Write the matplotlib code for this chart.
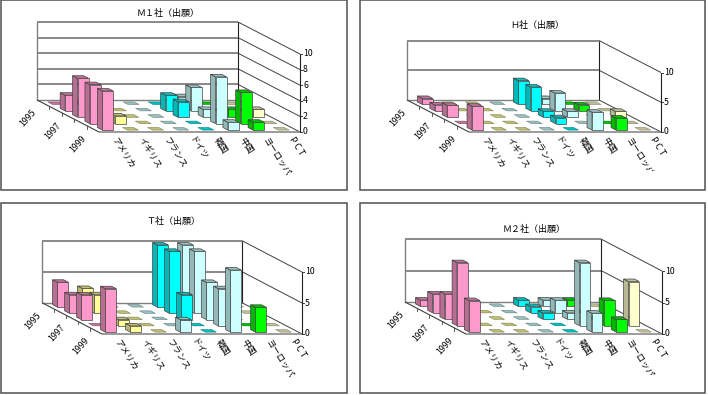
import matplotlib
matplotlib.use("Agg")
import numpy as np
from matplotlib import pyplot as plt
from matplotlib.patches import Rectangle

plt.rcParams['font.family'] = ['Noto Sans CJK JP', 'DejaVu Sans']

# categories along the front, years going into the picture
categories = ['アメリカ', 'イギリス', 'フランス', 'ドイツ', '韓国', '中国', 'ヨーロッパ', 'PCT']
years = ['1995', '', '1997', '', '1999']
colors = ['#FF99CC', '#FFFF99', '#FFFF99', '#CCFFFF', '#00FFFF', '#CCFFFF', '#00FF00', '#FFFFCC']

# one row per category, one value per year (1995..1999)
m1_values = [
    [0, 2, 5, 5, 5],
    [0, 0, 0, 1, 0],
    [0, 0, 0, 0, 0],
    [0, 0, 0, 0, 0],
    [0, 2, 2, 0, 0],
    [1, 3, 1, 6, 1],
    [0, 0, 1, 4, 1],
    [0, 0, 1, 0, 0],
]
h_values = [
    [1, 1, 2, 0, 4],
    [0, 0, 0, 0, 0],
    [0, 0, 0, 0, 0],
    [0, 0, 0, 0, 0],
    [4, 4, 1, 1, 0],
    [1, 3, 1, 0, 3],
    [0, 1, 0, 0, 2],
    [0, 0, 1, 0, 0],
]
t_values = [
    [4, 3, 4, 0, 7],
    [3, 3, 0, 1, 1],
    [0, 0, 0, 0, 0],
    [0, 0, 0, 0, 2],
    [10, 10, 4, 0, 0],
    [10, 10, 6, 6, 10],
    [0, 0, 0, 0, 4],
    [0, 0, 0, 0, 0],
]
m2_values = [
    [1, 3, 4, 10, 5],
    [0, 0, 0, 0, 0],
    [0, 0, 0, 0, 0],
    [0, 0, 0, 0, 0],
    [1, 1, 1, 0, 0],
    [1, 2, 1, 10, 3],
    [1, 0, 0, 4, 2],
    [0, 0, 0, 7, 0],
]
m1_ticks = [0, 2, 4, 6, 8, 10]
other_ticks = [0, 5, 10]

# layout in pixels: frame, title spot, floor corners, height of one unit, label clip
panels = [
    dict(title='Ｍ１社（出願）', values=m1_values, ticks=m1_ticks, frame=(1, 0, 347, 190),
         title_xy=(168, 13), fl=(99, 132), fr=(300, 132), bl=(37, 100), unit=7.8, clip=190),
    dict(title='Ｈ社（出願）', values=h_values, ticks=other_ticks, frame=(360, 0, 705, 190),
         title_xy=(537, 25), fl=(469, 132), fr=(661, 132), bl=(407, 100), unit=5.95, clip=171),
    dict(title='Ｔ社（出願）', values=t_values, ticks=other_ticks, frame=(1, 203, 347, 393),
         title_xy=(173, 221), fl=(102, 334), fr=(302, 334), bl=(42, 302.7), unit=6.2, clip=378),
    dict(title='Ｍ２社（出願）', values=m2_values, ticks=other_ticks, frame=(360, 203, 705, 393),
         title_xy=(534, 229), fl=(466, 334), fr=(662, 334), bl=(405, 302), unit=6.3, clip=375),
]

BAR_W = 0.22   # half width of a bar, in columns
BAR_D = 0.2    # half depth of a bar, in rows
DARK = '#404040'
GRID = '#808080'


def shade(color, k):
    rgb = np.array(matplotlib.colors.to_rgb(color))
    return tuple(rgb * k)


def draw_panel(ax, p):
    n_col = len(categories)
    n_row = len(years)
    dx = (p['fr'][0] - p['fl'][0]) / n_col
    sx = (p['fl'][0] - p['bl'][0]) / n_row
    sy = (p['fl'][1] - p['bl'][1]) / n_row

    # col 0..8 left to right, row 0..5 back to front
    def project(col, row, value):
        x = p['fl'][0] + col * dx - (n_row - row) * sx
        y = p['fl'][1] - (n_row - row) * sy - value * p['unit']
        return x, y

    def face(points, color, edge=DARK, lw=0.5):
        xy = np.array([project(*q) for q in points])
        ax.fill(xy[:, 0], xy[:, 1], facecolor=color, edgecolor=edge, linewidth=lw, zorder=3)

    def line(a, b, color=DARK, lw=0.7, z=2):
        xy = np.array([project(*a), project(*b)])
        ax.plot(xy[:, 0], xy[:, 1], color=color, linewidth=lw, zorder=z, solid_capstyle='butt')

    # frame and title
    x0, y0, x1, y1 = p['frame']
    ax.add_patch(Rectangle((x0, y0), x1 - x0, y1 - y0, facecolor='white', edgecolor='#505050',
                           linewidth=1.1, zorder=1))
    ax.text(p['title_xy'][0], p['title_xy'][1], p['title'], ha='center', va='center',
            fontsize=6.5, color='black', zorder=6)

    top = max(p['ticks'])

    # back wall and right wall, one level per tick
    for t in p['ticks']:
        if t > 0:
            line((0, 0, t), (n_col, 0, t), color=GRID, lw=1.3)
        line((n_col, 0, t), (n_col, n_row, t), lw=0.7)
        fx, fy = project(n_col, n_row, t)
        ax.plot([fx, fx + 2], [fy, fy], color=DARK, linewidth=0.7, zorder=2)
        ax.text(fx + 3, fy, str(t), ha='left', va='center', fontsize=6.3, color='black', zorder=6)
    line((0, 0, 0), (0, 0, top), color=GRID, lw=1.0)
    line((n_col, 0, 0), (n_col, 0, top), color='#202020', lw=0.8)
    line((n_col, n_row, 0), (n_col, n_row, top), color='#202020', lw=0.8)

    # floor edges
    line((0, 0, 0), (n_col, 0, 0), color=GRID, lw=1.0)
    line((0, 0, 0), (0, n_row, 0), lw=0.8)
    line((0, n_row, 0), (n_col, n_row, 0), color=GRID, lw=1.1)
    for r in range(1, n_row):
        fx, fy = project(0, r, 0)
        ax.plot([fx, fx], [fy, fy + 3], color=DARK, linewidth=0.6, zorder=2)

    # bars, painted from the back row forward
    for r in range(n_row):
        for c in range(n_col):
            v = p['values'][c][r]
            color = colors[c]
            left, right = c + 0.5 - BAR_W, c + 0.5 + BAR_W
            back, front = r + 0.5 - BAR_D, r + 0.5 + BAR_D
            top_color = shade(color, 0.75)
            if v == 0:
                # empty cell shows only a flat tile
                face([(left, back, 0), (right, back, 0), (right, front, 0), (left, front, 0)],
                     top_color, edge=shade(color, 0.5), lw=0.4)
                continue
            face([(left, back, 0), (left, front, 0), (left, front, v), (left, back, v)],
                 shade(color, 0.72))
            face([(left, back, v), (right, back, v), (right, front, v), (left, front, v)], top_color)
            face([(left, front, 0), (right, front, 0), (right, front, v), (left, front, v)], color)

    # year labels on the left edge
    for r, label in enumerate(years):
        if label:
            fx, fy = project(0, r + 0.5, 0)
            ax.text(fx - 15, fy + 15, label, rotation=48, ha='center', va='center',
                    fontsize=6.3, color='black', zorder=6)

    # category labels under the front edge, cut off where the plot area ends
    clip_box = Rectangle((x0, y0), x1 - x0, p['clip'] - y0, transform=ax.transData)
    for c, label in enumerate(categories):
        fx, fy = project(c + 0.5, n_row, 0)
        spaced = ' '.join(label) if label == 'PCT' else label
        txt = ax.text(fx + 3.5, fy + 6, spaced, rotation=-58, rotation_mode='anchor', ha='left',
                      va='center', fontsize=6.3, color='black', zorder=6, clip_on=True)
        txt.set_clip_path(clip_box)


fig = plt.figure(figsize=(7.08, 3.95), dpi=100, facecolor='white')
ax = fig.add_axes([0, 0, 1, 1])
ax.set_xlim(0, 708)
ax.set_ylim(395, 0)
ax.axis('off')

for p in panels:
    draw_panel(ax, p)

fig.savefig('out.png', dpi=100)
